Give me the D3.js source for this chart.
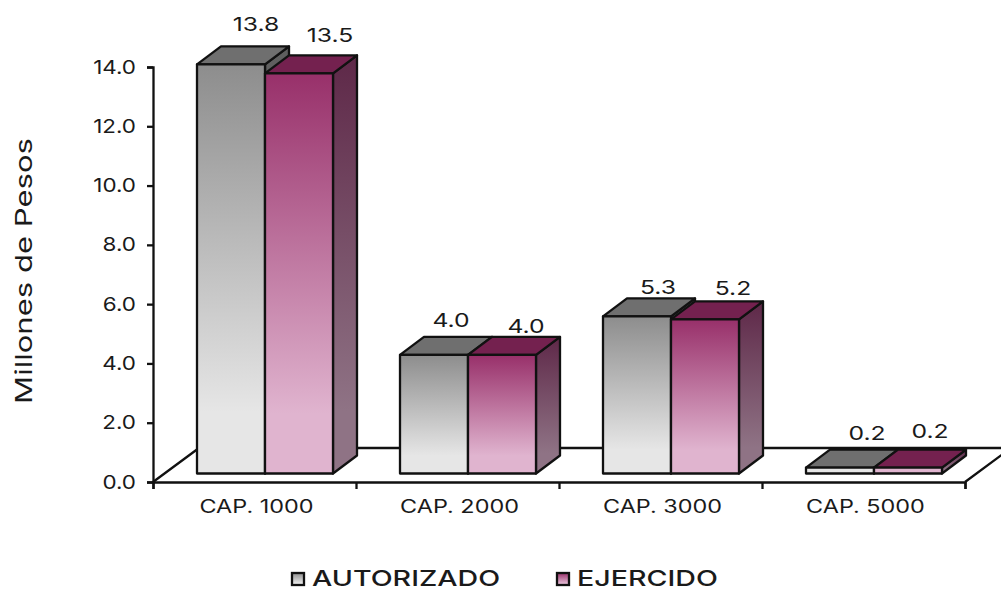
<!DOCTYPE html>
<html lang="en">
<head>
<meta charset="UTF-8">
<title>Millones de Pesos</title>
<script src="https://d3js.org/d3.v7.min.js"></script>
<style>
    html, body { margin: 0; padding: 0; background: #fff; }
    svg { display: block; }
    text { font-family: Inter, "Open Sans", sans-serif; fill: #1a1a1a; }
</style>
</head>
<body>
<div id="chart"></div>
<script>
    // values
    const categories = ["CAP. 1000", "CAP. 2000", "CAP. 3000", "CAP. 5000"];
    const seriesNames = ["AUTORIZADO", "EJERCIDO"];
    const autorizado = [13.8, 4.0, 5.3, 0.2];
    const ejercido = [13.5, 4.0, 5.2, 0.2];
    const yTicks = [0, 2, 4, 6, 8, 10, 12, 14];

    const width = 1001, height = 591;
    const x0 = 153, x1 = 965, yBase = 482, yTop = 67;
    const barW = 68, barInset = 44;          // bar width, gap from band start
    const barDx = 24, barDy = 18;            // 3d depth of a bar
    const floorDx = 46, floorDy = 34;        // 3d depth of the floor
    const barLift = 8.5;                     // bars stand a bit behind the floor front edge
    const stroke = "#111";
    const lineW = 2.3;

    // the data labels were placed by hand in the original
    const labelNudge = [
        [[13, -22], [19, -20]],
        [[5, -17], [12, -11]],
        [[9, -11], [16, -13]],
        [[15, -17], [10, -19]]
    ];

    const colors = [
        { top: "#6f6f6f", frontA: "#8d8d8d", frontB: "#e6e6e6", sideA: "#5d5d5d", sideB: "#8a8a8a" },
        { top: "#74214f", frontA: "#98306a", frontB: "#e0b4cf", sideA: "#5e2848", sideB: "#8f7385" }
    ];

    const svg = d3.select("#chart").append("svg")
        .attr("width", width)
        .attr("height", height);

    const xBand = d3.scaleBand().domain(categories).range([x0, x1]);
    const xEdge = d3.scaleLinear().domain([0, categories.length]).range([x0, x1]);
    const y = d3.scaleLinear().domain([0, 14]).range([yBase, yTop]);

    // gradients
    const defs = svg.append("defs");
    function gradient(id, a, b) {
        const g = defs.append("linearGradient").attr("id", id)
            .attr("x1", 0).attr("y1", 0).attr("x2", 0).attr("y2", 1);
        g.append("stop").attr("offset", "0%").attr("stop-color", a);
        g.append("stop").attr("offset", "85%").attr("stop-color", b);
    }
    colors.forEach((c, i) => {
        gradient("front" + i, c.frontA, c.frontB);
        gradient("side" + i, c.sideA, c.sideB);
    });

    // stretch text horizontally, the original is a widened image
    function stretch(sel, k) {
        sel.each(function () {
            const len = this.getComputedTextLength();
            d3.select(this).attr("textLength", len * k).attr("lengthAdjust", "spacingAndGlyphs");
        });
    }

    // floor
    svg.append("path")
        .attr("d", d3.line()([[x0, yBase], [x0 + floorDx, yBase - floorDy], [x1 + floorDx, yBase - floorDy], [x1, yBase]]))
        .attr("fill", "none")
        .attr("stroke", stroke)
        .attr("stroke-width", lineW);

    // axes
    const yAxis = svg.append("g")
        .attr("transform", "translate(" + x0 + ",0)")
        .call(d3.axisLeft(y).tickValues(yTicks).tickSize(6).tickPadding(11).tickFormat(d3.format(".1f")));
    yAxis.selectAll("text").style("font-size", "19px").call(stretch, 1.18);

    const xTicks = svg.append("g")
        .attr("transform", "translate(0," + yBase + ")")
        .call(d3.axisBottom(xEdge).ticks(categories.length).tickSize(7).tickFormat(""));

    const xAxis = svg.append("g")
        .attr("transform", "translate(2," + yBase + ")")
        .call(d3.axisBottom(xBand).tickSize(0).tickPadding(18));
    xAxis.select(".domain").remove();
    xAxis.selectAll("text").style("font-size", "18px").call(stretch, 1.3);

    [yAxis, xTicks].forEach(a => {
        a.selectAll(".domain, .tick line").attr("stroke", stroke).attr("stroke-width", lineW);
    });

    // bars
    const allValues = [autorizado, ejercido];
    categories.forEach((cat, c) => {
        allValues.forEach((vals, s) => {
            const v = vals[c];
            const left = xBand(cat) + barInset + s * barW;
            const right = left + barW;
            const bottom = y(0) - barLift;
            const top = y(v) - barLift;
            const g = svg.append("g")
                .attr("stroke", stroke)
                .attr("stroke-width", lineW)
                .attr("stroke-linejoin", "round");

            g.append("path")
                .attr("d", d3.line()([[right, top], [right + barDx, top - barDy], [right + barDx, bottom - barDy], [right, bottom]]) + "Z")
                .attr("fill", "url(#side" + s + ")");
            g.append("path")
                .attr("d", d3.line()([[left, top], [left + barDx, top - barDy], [right + barDx, top - barDy], [right, top]]) + "Z")
                .attr("fill", colors[s].top);
            g.append("rect")
                .attr("x", left)
                .attr("y", top)
                .attr("width", barW)
                .attr("height", bottom - top)
                .attr("fill", v < 1 ? colors[s].frontB : "url(#front" + s + ")");
        });
    });

    // data labels go on top of all the bars
    categories.forEach((cat, c) => {
        allValues.forEach((vals, s) => {
            const left = xBand(cat) + barInset + s * barW;
            const topBack = y(vals[c]) - barLift - barDy;
            svg.append("text")
                .attr("x", left + barW / 2 + barDx / 2 + labelNudge[c][s][0])
                .attr("y", topBack + labelNudge[c][s][1] + 7)
                .attr("text-anchor", "middle")
                .style("font-size", "19px")
                .text(vals[c].toFixed(1))
                .call(stretch, 1.3);
        });
    });

    // y title
    svg.append("text")
        .attr("transform", "translate(32,271) rotate(-90)")
        .attr("text-anchor", "middle")
        .style("font-size", "23px")
        .text("Millones de Pesos")
        .call(stretch, 1.35);

    // legend
    const legendX = d3.scaleOrdinal().domain(seriesNames).range([291, 556]);
    seriesNames.forEach((name, s) => {
        svg.append("rect")
            .attr("x", legendX(name) + 1)
            .attr("y", 573)
            .attr("width", 12)
            .attr("height", 12)
            .attr("fill", "url(#front" + s + ")")
            .attr("stroke", stroke)
            .attr("stroke-width", lineW);
        svg.append("text")
            .attr("x", legendX(name) + 21)
            .attr("y", 585.5)
            .style("font-size", "22px")
            .style("font-weight", 500)
            .text(name)
            .call(stretch, 1.3);
    });
</script>
</body>
</html>
